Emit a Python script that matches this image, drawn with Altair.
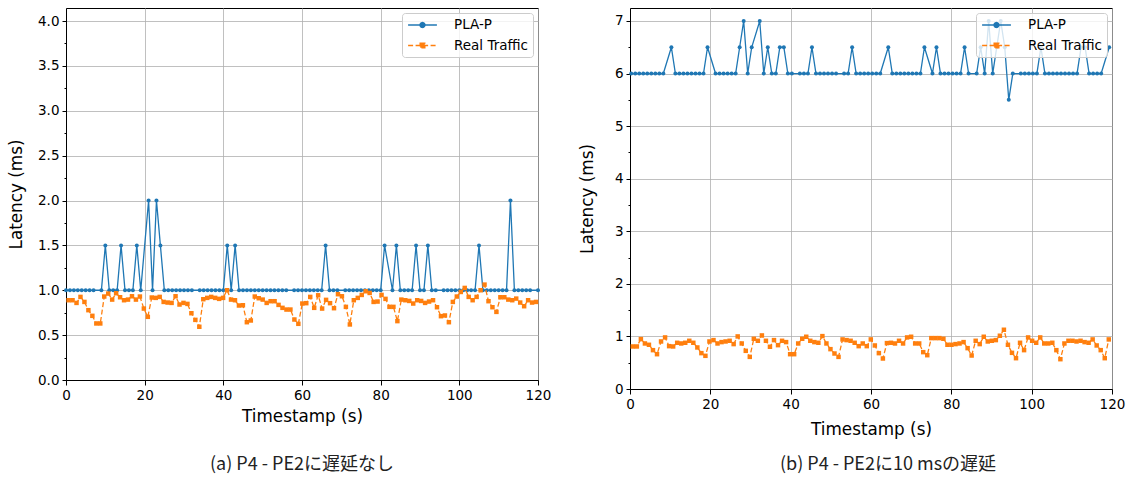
import altair as alt
import numpy as np
import pandas as pd

SERIES = ["PLA-P", "Real Traffic"]
COLORS = ["#1f77b4", "#ff7f0e"]

# ---- (a) no delay on P4 - PE2 ----
# PLA-P latency, one sample per second (None = sample missing)
a_pla_t = list(range(121))
a_pla_ms = [
    1.0, 1.0, 1.0, 1.0, 1.0, 1.0, 1.0, 1.0, None, 1.0,
    1.5, 1.0, 1.0, 1.0, 1.5, 1.0, 1.0, 1.0, 1.5, 1.0,
    None, 2.0, 1.0, 2.0, 1.5, 1.0, 1.0, 1.0, 1.0, 1.0,
    1.0, 1.0, 1.0, None, 1.0, 1.0, 1.0, 1.0, 1.0, 1.0,
    1.0, 1.5, 1.0, 1.5, 1.0, 1.0, 1.0, 1.0, 1.0, 1.0,
    1.0, 1.0, 1.0, 1.0, 1.0, 1.0, 1.0, None, 1.0, 1.0,
    1.0, 1.0, 1.0, 1.0, 1.0, 1.0, 1.5, 1.0, 1.0, 1.0,
    None, 1.0, 1.0, 1.0, 1.0, 1.0, 1.0, 1.0, 1.0, 1.0,
    1.0, 1.5, None, 1.0, 1.5, 1.0, 1.0, 1.0, 1.0, 1.5,
    1.0, 1.0, 1.5, 1.0, 1.0, None, 1.0, 1.0, 1.0, 1.0,
    1.0, 1.0, 1.0, 1.0, 1.0, 1.5, 1.0, 1.0, 1.0, 1.0,
    1.0, 1.0, 1.0, 2.0, 1.0, 1.0, 1.0, 1.0, 1.0, None, 1.0,
]
# Real traffic latency
a_traffic_ms = [
    0.889, 0.889, 0.859, 0.926, 0.870, 0.778, 0.715, 0.630, 0.630, 0.930,
    0.963, 0.896, 0.967, 0.922, 0.889, 0.896, 0.933, 0.896, 0.930, 0.796,
    0.704, 0.919, 0.915, 0.926, 0.870, 0.863, 0.859, 0.933, 0.841, 0.859,
    0.848, 0.744, 0.670, 0.593, 0.900, 0.915, 0.926, 0.915, 0.904, 0.915,
    1.000, 0.896, 0.889, 0.830, 0.833, 0.644, 0.663, 0.930, 0.911, 0.896,
    0.859, 0.878, 0.878, 0.837, 0.804, 0.785, 0.785, 0.674, 0.626, 0.852,
    0.856, 0.926, 0.804, 0.944, 0.796, 0.893, 0.856, 0.800, 0.956, 0.933,
    0.815, 0.619, 0.889, 0.915, 0.948, 0.989, 0.970, 0.870, 0.874, 0.948,
    0.904, 0.815, 0.815, 0.656, 0.896, 0.889, 0.881, 0.852, 0.889, 0.881,
    0.859, 0.874, 0.889, 0.811, 0.711, 0.719, 0.644, 0.870, 0.930, 0.981,
    1.026, 0.926, 0.889, 0.926, 1.000, 1.063, 0.878, 0.811, 0.759, 0.922,
    0.922, 0.896, 0.889, 0.907, 0.863, 0.822, 0.889, 0.863, 0.870,
]
a_traffic_t = np.linspace(0.66, 119.5, len(a_traffic_ms))

# ---- (b) 10 ms delay on P4 - PE2 ----
b_pla_t = np.arange(120) + 0.3
b_pla_ms = [
    6.0, 6.0, 6.0, 6.0, 6.0, 6.0, 6.0, 6.0, 6.0, None,
    6.5, 6.0, 6.0, 6.0, 6.0, 6.0, 6.0, 6.0, 6.0, 6.5,
    None, 6.0, 6.0, 6.0, 6.0, 6.0, 6.0, 6.5, 7.0, 6.0,
    6.5, None, 7.0, 6.0, 6.5, 6.0, 6.0, 6.5, 6.5, 6.0,
    6.0, None, 6.0, 6.0, 6.0, 6.5, 6.0, 6.0, 6.0, 6.0,
    6.0, 6.0, None, 6.0, 6.0, 6.5, 6.0, 6.0, 6.0, 6.0,
    6.0, 6.0, 6.0, None, 6.5, 6.0, 6.0, 6.0, 6.0, 6.0,
    6.0, 6.0, 6.0, 6.5, None, 6.0, 6.5, 6.0, 6.0, 6.0,
    6.0, 6.0, 6.0, 6.5, 6.0, None, 6.0, 6.5, 6.0, 7.0,
    6.0, 6.5, 7.0, 6.5, 5.5, 6.0, None, 6.0, 6.0, 6.0,
    6.0, 6.0, 6.5, 6.0, 6.0, 6.0, 6.0, 6.0, 6.0, 6.0,
    6.0, 6.0, 6.5, 6.5, 6.0, 6.0, 6.0, 6.0, None, 6.5,
]
b_traffic_ms = [
    0.809, 0.809, 0.949, 0.866, 0.841, 0.739, 0.662, 0.904, 0.981, 0.815,
    0.809, 0.879, 0.866, 0.879, 0.917, 0.879, 0.790, 0.682, 0.631, 0.904,
    0.930, 0.866, 0.892, 0.904, 0.917, 0.854, 1.000, 0.866, 0.726, 0.611,
    0.955, 0.917, 1.019, 0.917, 0.803, 0.930, 0.834, 0.917, 0.892, 0.662,
    0.662, 0.866, 0.955, 0.994, 0.917, 0.892, 0.879, 1.006, 0.866, 0.758,
    0.675, 0.611, 0.943, 0.930, 0.917, 0.879, 0.815, 0.866, 0.815, 0.943,
    0.828, 0.682, 0.580, 0.873, 0.879, 0.866, 0.917, 0.866, 0.981, 0.994,
    0.866, 0.866, 0.701, 0.643, 0.968, 0.968, 0.968, 0.955, 0.841, 0.841,
    0.854, 0.866, 0.892, 0.777, 0.637, 0.917, 0.854, 0.994, 0.904, 0.917,
    0.930, 1.013, 1.127, 0.841, 0.688, 0.586, 0.879, 0.739, 0.981, 0.917,
    0.879, 0.981, 0.866, 0.866, 0.879, 0.739, 0.567, 0.866, 0.917, 0.917,
    0.904, 0.917, 0.892, 0.879, 0.943, 0.828, 0.739, 0.586, 0.943,
]
b_traffic_t = np.linspace(0.7, 119.2, len(b_traffic_ms))

X_TICKS = [0, 20, 40, 60, 80, 100, 120]

# legend keys: a line with the series marker in its middle
KEY_SHAPES = [
    "M-2.4,0H2.4M0.4,0A0.4,0.4,0,1,1,-0.4,0A0.4,0.4,0,1,1,0.4,0Z",
    "M-2.4,0H2.4M-0.38,-0.38H0.38V0.38H-0.38Z",
]
KEY_DASH = [[1, 0], [5, 2.5]]


def panel(pla_t, pla_ms, tr_t, tr_ms, y_max, y_values, major_test, y_fmt,
          width, height, y_title_pad, x_title_pad, caption, caption_offset, caption_dx):
    pla = pd.DataFrame({"t": pla_t, "ms": pla_ms}).dropna()
    tr = pd.DataFrame({"t": tr_t, "ms": tr_ms})
    key = pd.DataFrame({"t": [-50, -50], "ms": [0, 0], "series": SERIES})

    x = alt.X("t:Q", scale=alt.Scale(domain=[0, 120], nice=False, zero=False),
              axis=alt.Axis(values=X_TICKS, title="Timestamp (s)", format="d",
                            titlePadding=x_title_pad, labelFlush=False))
    y = alt.Y("ms:Q", scale=alt.Scale(domain=[0, y_max], nice=False),
              axis=alt.Axis(values=y_values, title="Latency (ms)",
                            titlePadding=y_title_pad,
                            labelExpr=f"({major_test}) ? format(datum.value, '{y_fmt}') : ''",
                            tickSize={"condition": {"test": f"!({major_test})", "value": 2},
                                      "value": 4},
                            gridOpacity={"condition": {"test": f"!({major_test})", "value": 0},
                                         "value": 1}))

    pla_line = alt.Chart(pla).mark_line(color=COLORS[0], strokeWidth=1.3).encode(x=x, y=y)
    pla_pts = alt.Chart(pla).mark_point(shape="circle", filled=True, color=COLORS[0],
                                        size=16, opacity=1).encode(x=x, y=y)
    tr_line = alt.Chart(tr).mark_line(color=COLORS[1], strokeWidth=1.3,
                                      strokeDash=[5, 2.5]).encode(x=x, y=y)
    tr_pts = alt.Chart(tr).mark_point(shape="square", filled=True, color=COLORS[1],
                                      size=20, opacity=1).encode(x=x, y=y)

    leg = alt.Legend(title=None, orient="top-right", offset=5, padding=5,
                     fillColor="rgba(255,255,255,0.8)", strokeColor="#cccccc",
                     cornerRadius=3, labelFont="DejaVu Sans", labelFontSize=13.5,
                     labelColor="black", symbolSize=144, symbolStrokeWidth=1.5,
                     symbolOffset=8.5, labelOffset=24.5, rowPadding=6.5)
    key_layer = alt.Chart(key).mark_point(filled=True, opacity=1, clip=True,
                                          strokeWidth=1.5).encode(
        x=x, y=y,
        fill=alt.Fill("series:N", scale=alt.Scale(domain=SERIES, range=COLORS), legend=leg),
        stroke=alt.Stroke("series:N", scale=alt.Scale(domain=SERIES, range=COLORS), legend=leg),
        shape=alt.Shape("series:N", scale=alt.Scale(domain=SERIES, range=KEY_SHAPES), legend=leg),
        strokeDash=alt.StrokeDash("series:N", scale=alt.Scale(domain=SERIES, range=KEY_DASH),
                                  legend=leg),
    )

    return alt.layer(pla_line, pla_pts, tr_line, tr_pts, key_layer).properties(
        width=width, height=height,
        title=alt.TitleParams(caption, orient="bottom", anchor="middle", frame="group",
                              font="Noto Sans CJK JP", fontSize=18, fontWeight="normal",
                              color="#222222", offset=caption_offset, dx=caption_dx),
    )


left = panel(a_pla_t, a_pla_ms, a_traffic_t, a_traffic_ms, 4.145,
             [v / 4 for v in range(0, 17)],
             "abs(datum.value * 2 - round(datum.value * 2)) < 0.001", ".1f",
             472, 372, 12, 7, "(a) P4 - PE2に遅延なし", 31, 0)
right = panel(b_pla_t, b_pla_ms, b_traffic_t, b_traffic_ms, 7.247,
              [v / 2 for v in range(0, 15)],
              "abs(datum.value - round(datum.value)) < 0.001", "d",
              482, 381, 18, 11, "(b) P4 - PE2に10 msの遅延", 18, 17)

chart = alt.hconcat(left, right, spacing=26).resolve_scale(
    x="independent", y="independent",
    fill="independent", stroke="independent", shape="independent", strokeDash="independent",
).resolve_legend(
    fill="independent", stroke="independent", shape="independent", strokeDash="independent",
).properties(
    padding={"left": 8, "top": 7, "right": 0, "bottom": 0}
).configure_view(
    stroke="black", strokeWidth=1
).configure_axis(
    labelFont="DejaVu Sans", labelFontSize=13.5, labelColor="black", labelPadding=3,
    titleFont="DejaVu Sans", titleFontSize=16.8, titleFontWeight="normal", titleColor="black",
    domainColor="black", domainWidth=1, tickColor="black", tickWidth=1,
    gridColor="#b0b0b0", gridWidth=0.8,
)

chart.save("out.html", embed_options={"renderer": "svg", "actions": False})
